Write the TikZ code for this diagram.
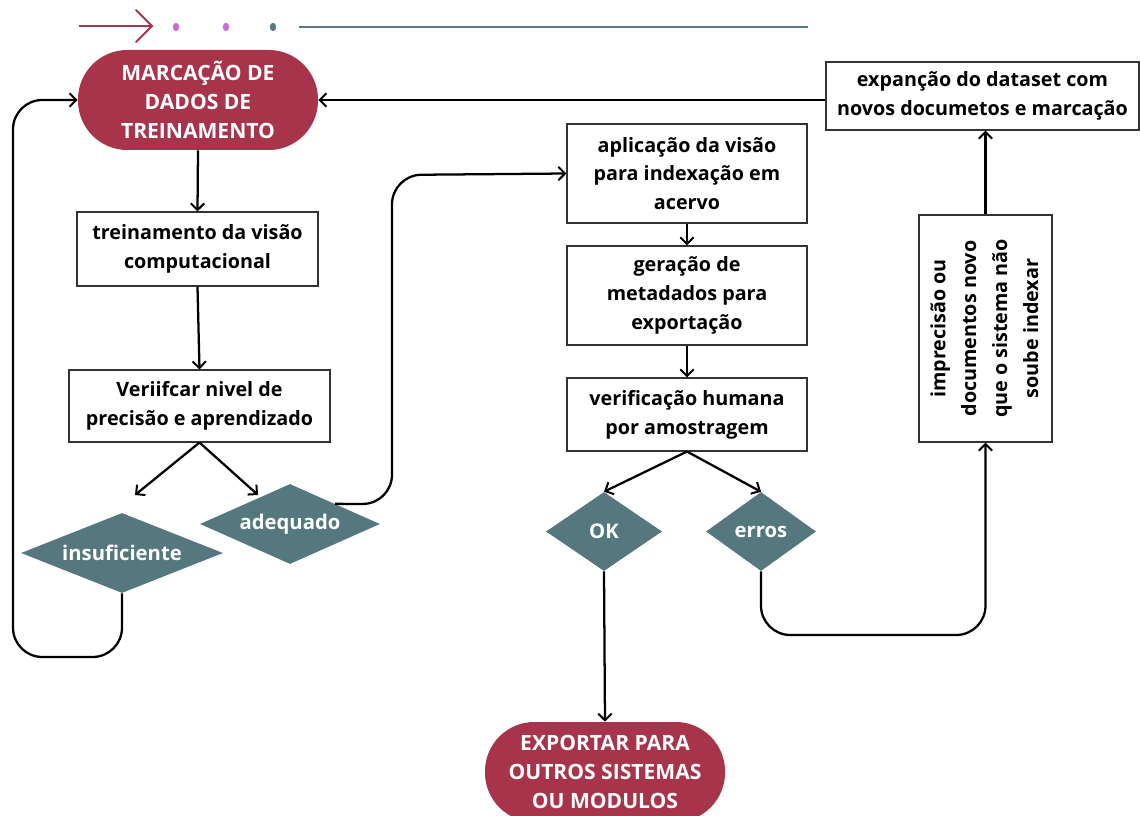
\documentclass[tikz,border=0pt]{standalone}
\usepackage{fontspec}
\setmainfont{Open Sans}
\usetikzlibrary{arrows.meta,shapes.geometric}
\definecolor{crim}{HTML}{A8344B}
\definecolor{tealdia}{HTML}{55787F}
\definecolor{pinkdot}{HTML}{C86ED2}
\definecolor{tealline}{HTML}{557A84}
\begin{document}
\begin{tikzpicture}[x=0.75pt,y=-0.75pt,
  font=\fontsize{14.8}{21.5}\selectfont\bfseries,
  box/.style={draw=black!80, line width=0.8pt, fill=white, align=center, inner sep=0pt},
  pill/.style={fill=crim, text=white, rounded corners=37pt, align=center, inner sep=0pt,
    font=\fontsize{15.8}{22}\selectfont\bfseries},
  dia/.style={diamond, fill=tealdia, text=white, inner sep=0pt, font=\fontsize{15.2}{20}\selectfont\bfseries},
  conn/.style={line width=1.7pt, rounded corners=22pt, -{Straight Barb[length=5pt,width=10pt,line width=1.5pt]}}
]
\useasboundingbox (0,0) rectangle (1140,816);
\clip (0,0) rectangle (1140,816);

% decoration
\draw[crim, line width=1.4pt] (79,26) -- (151,26);
\draw[crim, line width=1.4pt, line cap=round, line join=miter] (136,10) -- (152,26) -- (136,42);
\fill[pinkdot] (176,27) ellipse (3.2 and 4.2);
\fill[pinkdot] (226,27) ellipse (3.2 and 4.2);
\fill[tealline] (273,27) ellipse (3.2 and 4.2);
\draw[tealline, line width=2pt] (299,27) -- (808,27);

% nodes
\node[pill, minimum width=240*0.75pt, minimum height=100*0.75pt] (marc) at (198,100) {MARCAÇÃO DE\\DADOS DE\\TREINAMENTO};
\node[box, minimum width=241*0.75pt, minimum height=74*0.75pt] (trein) at (197.5,249) {treinamento da visão\\computacional};
\node[box, minimum width=261*0.75pt, minimum height=72*0.75pt] (verif) at (199.5,406) {Veriifcar nivel de\\precisão e aprendizado};
\node[dia, aspect=2.525, minimum width=202*0.75pt, minimum height=80*0.75pt] (insuf) at (122,553) {insuficiente};
\node[dia, aspect=2.25, minimum width=180*0.75pt, minimum height=80*0.75pt] (adeq) at (290,524) {adequado};
\node[box, minimum width=240*0.75pt, minimum height=99*0.75pt] (aplic) at (687,173.5) {aplicação da visão\\para indexação em\\acervo};
\node[box, minimum width=240*0.75pt, minimum height=99*0.75pt] (gera) at (687,295.5) {geração de\\metadados para\\exportação};
\node[box, minimum width=240*0.75pt, minimum height=73*0.75pt] (vhum) at (687,414.5) {verificação humana\\por amostragem};
\node[dia, aspect=1.47, minimum width=116*0.75pt, minimum height=79*0.75pt] (ok) at (604,531.5) {OK};
\node[dia, aspect=1.39, minimum width=110*0.75pt, minimum height=79*0.75pt] (erros) at (761,531.5) {erros};
\node[pill, minimum width=240*0.75pt, minimum height=100*0.75pt] (export) at (605,772) {EXPORTAR PARA\\OUTROS SISTEMAS\\OU MODULOS};
\node[box, minimum width=133*0.75pt, minimum height=227*0.75pt] (impr) at (985.5,328.5)
  {\rotatebox{90}{\renewcommand\arraystretch{1.08}\begin{tabular}{@{}c@{}}imprecisão ou\\documentos novo\\que o sistema não\\soube indexar\end{tabular}}};
\node[box, minimum width=313*0.75pt, minimum height=68*0.75pt] (expan) at (982.5,96) {expanção do dataset com\\novos documetos e marcação};

\coordinate (tipL) at (135,495);
\coordinate (tipR) at (258,495);

% connectors
\draw[conn] (marc.south) -- (trein.north);
\draw[conn] (trein.south) -- (verif.north);
\draw[conn] (verif.south) -- (tipL);
\draw[conn] (verif.south) -- (tipR);
\draw[conn] (insuf.south) -- (122,657) -- (13,657) -- (13,100) -- (marc.west);
\draw[conn] (adeq.north east) -- (392,504) -- (392,175) -- (aplic.west);
\draw[conn] (aplic.south) -- (gera.north);
\draw[conn] (gera.south) -- (vhum.north);
\draw[conn] (vhum.south) -- (ok.north);
\draw[conn] (vhum.south) -- (erros.north);
\draw[conn] (ok.south) -- (export.north);
\draw[conn] (erros.south) -- (761,635) -- (985.5,635) -- (impr.south);
\draw[conn] (impr.north) -- (impr.north |- expan.south);
\draw[conn] (expan.west |- marc.east) -- (marc.east);
\end{tikzpicture}
\end{document}
